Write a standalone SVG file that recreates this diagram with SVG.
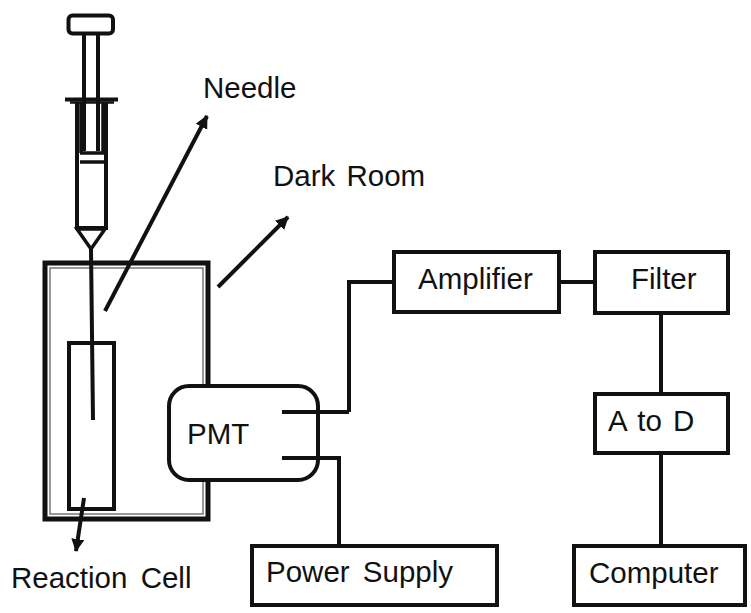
<svg xmlns="http://www.w3.org/2000/svg" width="751" height="613" viewBox="0 0 751 613">
<style>
text{font-family:"Liberation Sans",Arial,sans-serif;font-size:29.500px;fill:#111}
.b{fill:#fff;stroke:#111;stroke-width:4}
.l{fill:none;stroke:#111;stroke-width:4}
.t{fill:none;stroke:#111;stroke-width:3.500}
</style>
<defs><marker id="a" markerUnits="userSpaceOnUse" markerWidth="15" markerHeight="14" refX="12" refY="6.500" orient="auto"><path d="M0 0L13 6.500L0 13Z" fill="#111"/></marker></defs>
<rect width="751" height="613" fill="#fff"/>
<g id="dark-room">
<rect x="45" y="263" width="163" height="256" fill="#fff" stroke="#111" stroke-width="5"/>
<rect x="50" y="268" width="153" height="246" fill="none" stroke="#777" stroke-width="1.500"/>
</g>
<g id="reaction-cell"><rect x="69" y="343" width="45" height="166" class="b"/></g>
<g id="syringe">
<rect x="68.500" y="15.500" width="44.500" height="18" rx="4" class="b"/>
<path class="l" d="M84 34V151M98 34V151"/>
<path d="M65 99.500H118" stroke="#111" stroke-width="4" fill="none"/><path d="M70 102.500H114" stroke="#111" stroke-width="2.500" fill="none"/>
<path class="t" d="M81 102V153M103 102V153M80 153H105M80 162H105"/>
<path class="l" d="M77 102V228H106V102"/>
<path d="M77 229H105L91 249Z" fill="#fff" stroke="#111" stroke-width="3.500"/>
</g>
<g id="connectors">
<path class="l" d="M91 249L93 420"/>
<path class="l" d="M105 311L207 116" marker-end="url(#a)"/>
<path class="l" d="M218 287L288 217" marker-end="url(#a)"/>
<path class="l" d="M84 498L76 551" marker-end="url(#a)"/>
<path class="l" d="M349 412V282H394"/>
<path class="l" d="M339 458V546"/>
<path class="l" d="M559 282H595"/>
<path class="l" d="M661 313V393"/>
<path class="l" d="M661 453V546"/>
</g>
<g id="pmt"><rect x="169" y="386" width="149" height="94" rx="20" class="b"/><text x="187" y="444">PMT</text><path class="l" d="M282 412H349M282 458H341"/></g>
<g id="amplifier"><rect x="394" y="252" width="165" height="60" class="b"/><text x="418" y="289">Amplifier</text></g>
<g id="filter"><rect x="595" y="252" width="133" height="61" class="b"/><text x="631" y="289">Filter</text></g>
<g id="a-to-d"><rect x="595" y="394" width="133" height="59" class="b"/><text x="608" y="431" word-spacing="3">A to D</text></g>
<g id="computer"><rect x="574" y="546" width="171" height="59" class="b"/><text x="589" y="583">Computer</text></g>
<g id="power-supply"><rect x="252" y="546" width="245" height="59" class="b"/><text x="266" y="582" word-spacing="5">Power Supply</text></g>
<text x="203" y="98">Needle</text>
<text x="273" y="186" word-spacing="3">Dark Room</text>
<text x="11" y="588" word-spacing="5">Reaction Cell</text>
</svg>
